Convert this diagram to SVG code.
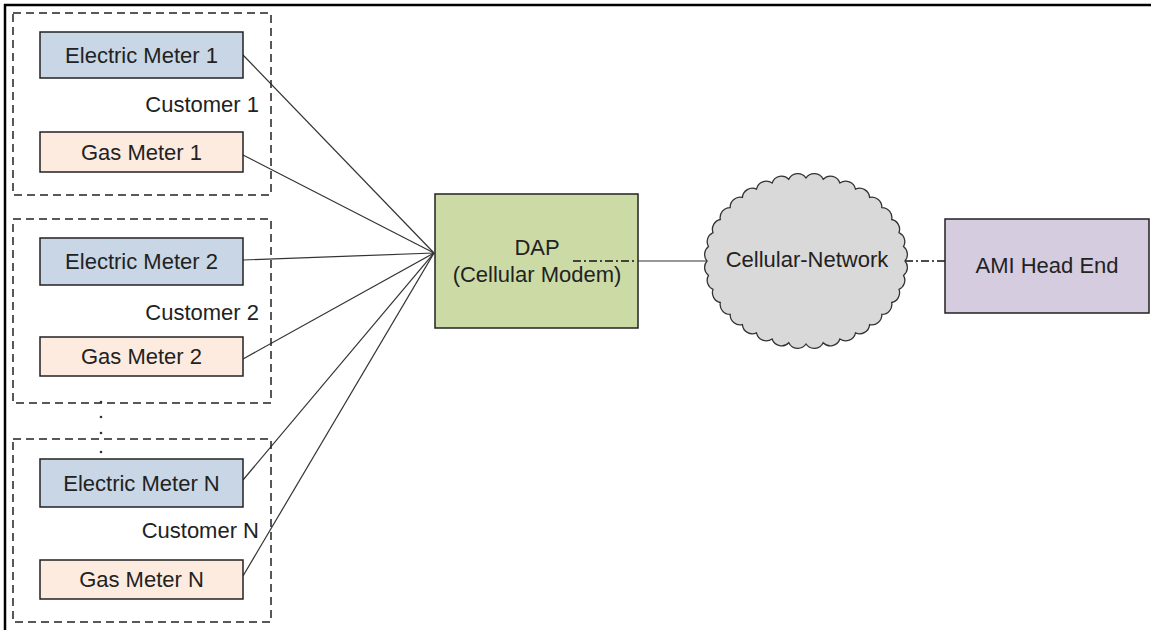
<svg xmlns="http://www.w3.org/2000/svg" width="1151" height="630" viewBox="0 0 1151 630">
<style>
text{font-family:"Liberation Sans",Arial,sans-serif;font-size:22px;fill:#222}
.em{fill:#C8D6E5;stroke:#222;stroke-width:1.5}
.gm{fill:#FDEBDF;stroke:#222;stroke-width:1.5}
.cust{fill:none;stroke:#222;stroke-width:1.5;stroke-dasharray:8 5}
.ln{stroke:#333;stroke-width:1.2;fill:none}
.dd{stroke:#111;stroke-width:1.3;fill:none;stroke-dasharray:8 3 2 3}
</style>
<rect width="1151" height="630" fill="#fff"/>
<g id="frame">
<line x1="4" y1="5" x2="1151" y2="5" stroke="#000" stroke-width="2.5"/>
<line x1="5" y1="4" x2="5" y2="630" stroke="#000" stroke-width="2.5"/>
</g>
<g id="connectors">
<line class="ln" x1="243" y1="55" x2="434" y2="253"/>
<line class="ln" x1="243" y1="155" x2="434" y2="253"/>
<line class="ln" x1="243" y1="260" x2="434" y2="253"/>
<line class="ln" x1="243" y1="359" x2="434" y2="253"/>
<line class="ln" x1="243" y1="480" x2="434" y2="253"/>
<line class="ln" x1="243" y1="576" x2="434" y2="253"/>
<line class="ln" x1="637" y1="261" x2="708" y2="261"/>
<line class="dd" x1="905" y1="261" x2="945" y2="261"/>
</g>
<g id="customer1">
<rect class="cust" x="13" y="13" width="258" height="182"/>
<text x="259" y="112" text-anchor="end">Customer 1</text>
</g>
<g id="em1">
<rect class="em" x="40" y="32" width="203" height="46"/>
<text x="141.5" y="63" text-anchor="middle">Electric Meter 1</text>
</g>
<g id="gm1">
<rect class="gm" x="40" y="132" width="203" height="40"/>
<text x="141.5" y="160" text-anchor="middle">Gas Meter 1</text>
</g>
<g id="customer2">
<rect class="cust" x="13" y="219" width="258" height="184"/>
<text x="259" y="320" text-anchor="end">Customer 2</text>
</g>
<g id="em2">
<rect class="em" x="40" y="238" width="203" height="47"/>
<text x="141.5" y="269" text-anchor="middle">Electric Meter 2</text>
</g>
<g id="gm2">
<rect class="gm" x="40" y="337" width="203" height="39"/>
<text x="141.5" y="364" text-anchor="middle">Gas Meter 2</text>
</g>
<g id="ellipsis" fill="#333">
<circle cx="101" cy="402" r="1.3"/>
<circle cx="101" cy="417" r="1.3"/>
<circle cx="101" cy="433" r="1.3"/>
<circle cx="101" cy="452" r="1.3"/>
</g>
<g id="customerN">
<rect class="cust" x="13" y="439" width="258" height="183"/>
<text x="259" y="538" text-anchor="end">Customer N</text>
</g>
<g id="emN">
<rect class="em" x="40" y="459" width="203" height="48"/>
<text x="141.5" y="491" text-anchor="middle">Electric Meter N</text>
</g>
<g id="gmN">
<rect class="gm" x="40" y="560" width="203" height="39"/>
<text x="141.5" y="587" text-anchor="middle">Gas Meter N</text>
</g>
<g id="dap">
<rect x="435" y="194" width="203" height="134" fill="#CCDBA6" stroke="#222" stroke-width="1.5"/>
<text x="537" y="255" text-anchor="middle">DAP</text>
<text x="537" y="282" text-anchor="middle">(Cellular Modem)</text>
<line class="dd" x1="573" y1="261" x2="637" y2="261"/>
</g>
<g id="cloud">
<path d="M905,261 A10,10 0 0 1 903.5,275.4 A10,10 0 0 1 899,289.4 A10,10 0 0 1 891.7,302.5 A10,10 0 0 1 881.8,314.4 A10,10 0 0 1 869.6,324.6 A10,10 0 0 1 855.5,332.9 A10,10 0 0 1 839.9,339 A10,10 0 0 1 823.2,342.7 A10,10 0 0 1 806,344 A10,10 0 0 1 788.8,342.7 A10,10 0 0 1 772.1,339 A10,10 0 0 1 756.5,332.9 A10,10 0 0 1 742.4,324.6 A10,10 0 0 1 730.2,314.4 A10,10 0 0 1 720.3,302.5 A10,10 0 0 1 713,289.4 A10,10 0 0 1 708.5,275.4 A10,10 0 0 1 707,261 A10,10 0 0 1 708.5,246.6 A10,10 0 0 1 713,232.6 A10,10 0 0 1 720.3,219.5 A10,10 0 0 1 730.2,207.6 A10,10 0 0 1 742.4,197.4 A10,10 0 0 1 756.5,189.1 A10,10 0 0 1 772.1,183 A10,10 0 0 1 788.8,179.3 A10,10 0 0 1 806,178 A10,10 0 0 1 823.2,179.3 A10,10 0 0 1 839.9,183 A10,10 0 0 1 855.5,189.1 A10,10 0 0 1 869.6,197.4 A10,10 0 0 1 881.8,207.6 A10,10 0 0 1 891.7,219.5 A10,10 0 0 1 899,232.6 A10,10 0 0 1 903.5,246.6 A10,10 0 0 1 905,261 Z" fill="#D9D9D9" stroke="#333" stroke-width="1.3"/>
<text x="807" y="267" text-anchor="middle">Cellular-Network</text>
</g>
<g id="ami">
<rect x="945" y="219" width="204" height="94" fill="#D5CCE0" stroke="#222" stroke-width="1.5"/>
<text x="1047" y="273" text-anchor="middle">AMI Head End</text>
</g>
</svg>
